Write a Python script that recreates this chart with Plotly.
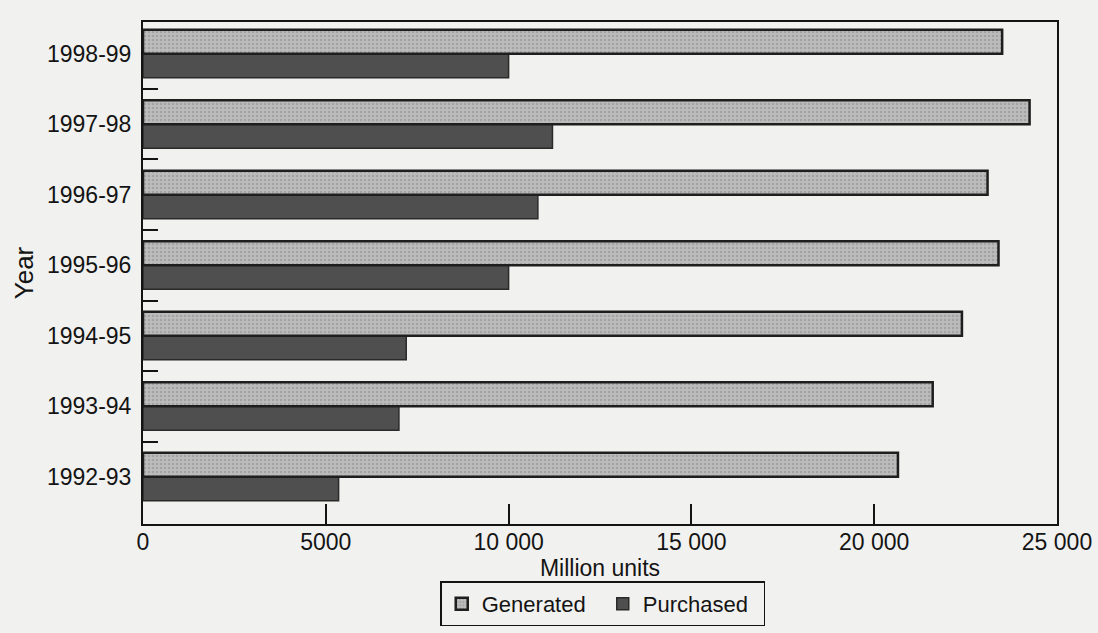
import plotly.graph_objects as go

years = ["1992-93", "1993-94", "1994-95", "1995-96", "1996-97", "1997-98", "1998-99"]
generated = [20650, 21600, 22400, 23400, 23100, 24250, 23500]
purchased = [5350, 7000, 7200, 10000, 10800, 11200, 10000]
x_ticks = [0, 5000, 10000, 15000, 20000, 25000]
x_tick_text = ["0", "5000", "10 000", "15 000", "20 000", "25 000"]
group_marks = [0.5, 1.5, 2.5, 3.5, 4.5, 5.5]

FONT = "Liberation Sans, Arial, Helvetica, sans-serif"
BG = "#f1f1ef"
INK = "#141414"
Y_RANGE = [-0.67, 6.45]

fig = go.Figure()
fig.add_trace(go.Bar(
    y=years, x=purchased, orientation="h", name="Purchased",
    marker=dict(color="#4f4f4f", line=dict(color="#2a2a2a", width=1.5)),
    legendrank=2,
))
fig.add_trace(go.Bar(
    y=years, x=generated, orientation="h", name="Generated",
    marker=dict(color="#aaaaaa", line=dict(color="#1e1e1e", width=2.5),
                pattern=dict(shape=".", fgcolor="#8a8a8a", bgcolor="#bcbcbc", size=4, solidity=0.3)),
    legendrank=1,
))
# empty helper trace so the group-separator tick axis is drawn
fig.add_trace(go.Scatter(x=[None], y=[None], yaxis="y2", showlegend=False,
                         hoverinfo="skip", mode="markers"))

fig.update_layout(
    width=1098, height=633,
    margin=dict(l=143, r=41, t=22, b=109, autoexpand=False),
    paper_bgcolor=BG, plot_bgcolor=BG,
    barmode="group", bargap=0.32, bargroupgap=0,
    font=dict(family=FONT, size=23, color=INK),
    showlegend=True,
    legend=dict(orientation="h", x=0.503, xanchor="center",
                yref="container", y=0.046, yanchor="middle",
                bordercolor=INK, borderwidth=1.5, bgcolor=BG,
                font=dict(size=22), itemwidth=30, tracegroupgap=0,
                entrywidth=116, entrywidthmode="pixels"),
    xaxis=dict(range=[0, 25000], tickvals=x_ticks, ticktext=x_tick_text,
               ticks="inside", ticklen=20, tickwidth=1.5, tickcolor=INK,
               showgrid=False, zeroline=False, showline=True, linecolor=INK,
               linewidth=2, mirror=True, ticklabelstandoff=-4, automargin=False,
               tickfont=dict(size=23),
               title=dict(text="Million units", standoff=11, font=dict(size=23))),
    yaxis=dict(type="category", range=Y_RANGE, ticks="", showgrid=False,
               showline=True, linecolor=INK, linewidth=2, mirror=True,
               ticklabelstandoff=5, tickfont=dict(size=23), automargin=False,
               title=dict(text="Year", standoff=6, font=dict(size=26))),
    yaxis2=dict(overlaying="y", side="left", range=Y_RANGE, tickvals=group_marks,
                ticks="inside", ticklen=15, tickwidth=2, tickcolor=INK, automargin=False,
                showticklabels=False, showgrid=False, zeroline=False, showline=False),
)

fig.write_html("out.html")
